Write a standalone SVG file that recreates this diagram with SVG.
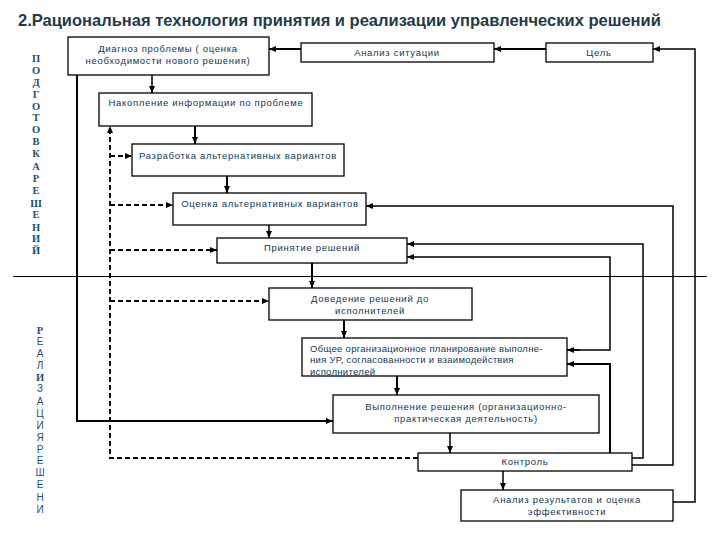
<svg xmlns="http://www.w3.org/2000/svg" width="720" height="540" viewBox="0 0 720 540">
<style>
.box{fill:#ffffff;stroke:#000;stroke-width:1.3}
.lbl{font-family:"Liberation Sans",Arial,sans-serif;font-size:9.5px;fill:#0d3a58;letter-spacing:0.7px}
.c{stroke:#000;stroke-width:1.5;fill:none}
.t{stroke:#000;stroke-width:2;fill:none}
.d{stroke:#000;stroke-width:2;fill:none;stroke-dasharray:5,3}
.side{font-family:"Liberation Serif","Times New Roman",serif;font-size:10.5px;font-weight:bold;fill:#1d4f7a}
.side2{font-family:"Liberation Sans",Arial,sans-serif;font-size:10px;fill:#1d4f7a}
</style>
<defs>
<marker id="a" markerWidth="7" markerHeight="6" refX="7" refY="3" orient="auto" markerUnits="userSpaceOnUse">
<path d="M0,0 L7,3 L0,6 Z" fill="#000"/>
</marker>
</defs>
<rect width="720" height="540" fill="#ffffff"/>
<text x="18" y="26" font-family="'Liberation Sans',Arial,sans-serif" font-size="16.5" font-weight="bold" fill="#1d3c4a">2.Рациональная технология принятия и реализации управленческих решений</text>

<g id="side-prep" class="side" text-anchor="middle">
<text x="36" y="62">П</text><text x="36" y="74">О</text><text x="36" y="86">Д</text><text x="36" y="98">Г</text><text x="36" y="110">О</text><text x="36" y="121">Т</text><text x="36" y="133">О</text><text x="36" y="145">В</text><text x="36" y="157">К</text><text x="36" y="170">А</text><text x="36" y="182">Р</text><text x="36" y="194">Е</text><text x="36" y="207">Ш</text><text x="36" y="218">Е</text><text x="36" y="231">Н</text><text x="36" y="242">И</text><text x="36" y="254">Й</text>
</g>
<g id="side-real" class="side2" text-anchor="middle">
<text x="40" y="334" class="side">Р</text><text x="40" y="345">Е</text><text x="40" y="357">А</text><text x="40" y="369">Л</text><text x="40" y="381" class="side" fill="#0f6b6b">И</text><text x="40" y="392">З</text><text x="40" y="405">А</text><text x="40" y="417">Ц</text><text x="40" y="429">И</text><text x="40" y="441">Я</text><text x="40" y="453">Р</text><text x="40" y="464">Е</text><text x="40" y="476">Ш</text><text x="40" y="488">Е</text><text x="40" y="501">Н</text><text x="40" y="513">И</text>
</g>

<line x1="13" y1="276.5" x2="707" y2="276.5" stroke="#000" stroke-width="1"/>

<g id="n-diag"><rect class="box" x="68" y="37" width="201" height="38"/>
<text class="lbl" x="168" y="52" text-anchor="middle">Диагноз проблемы ( оценка</text>
<text class="lbl" x="168" y="64" text-anchor="middle">необходимости нового решения)</text></g>
<g id="n-analiz"><rect class="box" x="301" y="43" width="193" height="19"/>
<text class="lbl" x="397" y="56" text-anchor="middle">Анализ ситуации</text></g>
<g id="n-cel"><rect class="box" x="546" y="43" width="107" height="19"/>
<text class="lbl" x="599" y="56" text-anchor="middle">Цель</text></g>
<g id="n-nakop"><rect class="box" x="99" y="93" width="213" height="33"/>
<text class="lbl" x="206" y="106" text-anchor="middle">Накопление информации по проблеме</text></g>
<g id="n-razr"><rect class="box" x="132" y="144" width="212" height="32"/>
<text class="lbl" x="238" y="159" text-anchor="middle">Разработка альтернативных вариантов</text></g>
<g id="n-ocenka"><rect class="box" x="173" y="193" width="193" height="32"/>
<text class="lbl" x="270" y="207" text-anchor="middle">Оценка альтернативных вариантов</text></g>
<g id="n-prin"><rect class="box" x="217" y="238" width="190" height="25"/>
<text class="lbl" x="312" y="251" text-anchor="middle">Принятие решений</text></g>
<g id="n-doved"><rect class="box" x="269" y="288" width="203" height="32"/>
<text class="lbl" x="370" y="302" text-anchor="middle">Доведение решений до</text>
<text class="lbl" x="370" y="314" text-anchor="middle">исполнителей</text></g>
<g id="n-obsh"><rect class="box" x="302" y="338" width="265" height="38"/>
<text class="lbl" x="310" y="352" style="letter-spacing:0.3px">Общее организационное планирование выполне-</text>
<text class="lbl" x="310" y="363" style="letter-spacing:0.3px">ния УР, согласованности и взаимодействия</text>
<text class="lbl" x="310" y="375" style="letter-spacing:0.3px">исполнителей</text></g>
<g id="n-vyp"><rect class="box" x="333" y="395" width="266" height="38"/>
<text class="lbl" x="466" y="410" text-anchor="middle">Выполнение решения (организационно-</text>
<text class="lbl" x="466" y="422" text-anchor="middle">практическая деятельность)</text></g>
<g id="n-kontrol"><rect class="box" x="418" y="453" width="214" height="18"/>
<text class="lbl" x="525" y="465" text-anchor="middle">Контроль</text></g>
<g id="n-analizrez"><rect class="box" x="461" y="490" width="212" height="31"/>
<text class="lbl" x="567" y="503" text-anchor="middle">Анализ результатов и оценка</text>
<text class="lbl" x="567" y="515" text-anchor="middle">эффективности</text></g>

<g id="connectors">
<path class="t" d="M546,49 H494" marker-end="url(#a)"/>
<path class="t" d="M301,49 H269" marker-end="url(#a)"/>
<path class="c" d="M673,502 H695 V49 H653" marker-end="url(#a)"/>
<path class="c" d="M152,75 V93" marker-end="url(#a)"/>
<path class="t" d="M195,126 V144" marker-end="url(#a)"/>
<path class="t" d="M227,176 V193" marker-end="url(#a)"/>
<path class="c" d="M269,225 V238" marker-end="url(#a)"/>
<path class="t" d="M312,263 V288" marker-end="url(#a)"/>
<path class="t" d="M344,320 V338" marker-end="url(#a)"/>
<path class="t" d="M397,376 V395" marker-end="url(#a)"/>
<path class="c" d="M450,433 V453" marker-end="url(#a)"/>
<path class="c" d="M503,471 V490" marker-end="url(#a)"/>
<path class="t" d="M77,75 V421 H333" marker-end="url(#a)"/>
<path class="d" d="M418,458 H110 V126" marker-end="url(#a)"/>
<path class="d" d="M110,156 H132" marker-end="url(#a)"/>
<path class="d" d="M110,205 H173" marker-end="url(#a)"/>
<path class="d" d="M110,250 H217" marker-end="url(#a)"/>
<path class="d" d="M110,301 H269" marker-end="url(#a)"/>
<path class="t" d="M610,453 V364 H567" marker-end="url(#a)"/>
<path class="c" d="M632,458 H643 V244 H407" marker-end="url(#a)"/>
<path class="c" d="M632,465 H673 V206 H366" marker-end="url(#a)"/>
<path class="c" d="M567,350 H610 V257 H407" marker-end="url(#a)"/>
<path class="c" d="M580,350 H567" marker-end="url(#a)"/>
</g>
</svg>
